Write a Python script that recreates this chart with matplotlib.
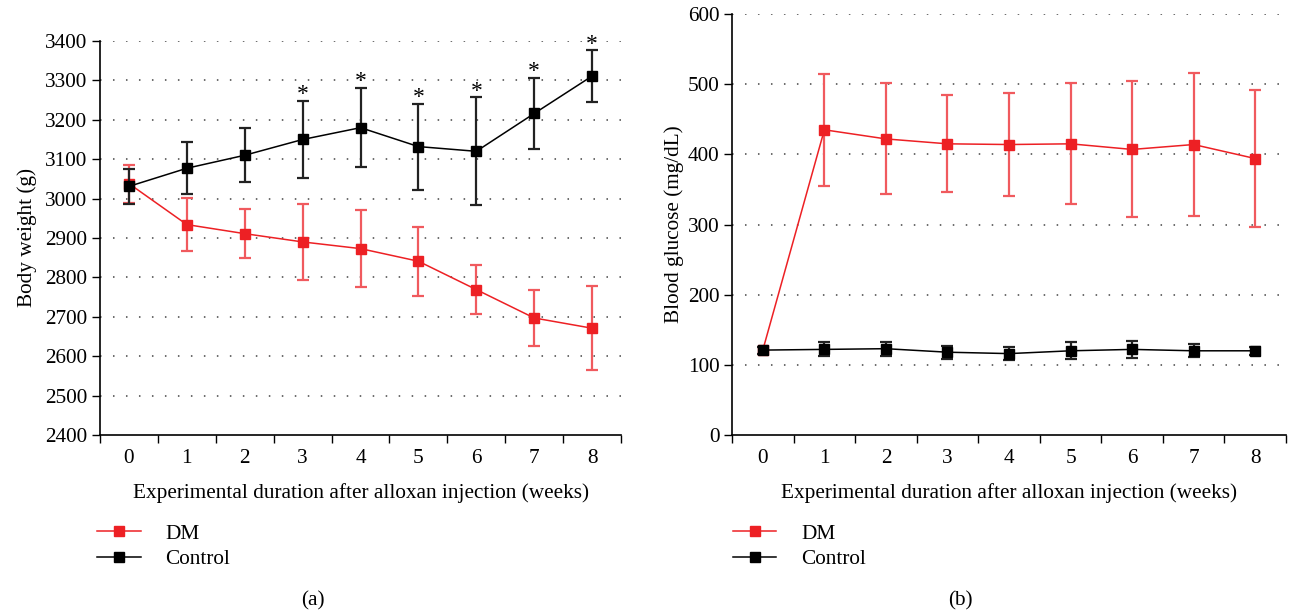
import matplotlib.pyplot as plt
from matplotlib.lines import Line2D
import numpy as np

plt.rcParams['font.family'] = ['Liberation Serif', 'DejaVu Serif']

weeks = [0, 1, 2, 3, 4, 5, 6, 7, 8]

# (a) body weight (g)
bw_dm = [3038, 2934, 2911, 2890, 2873, 2841, 2769, 2697, 2671]
bw_dm_err = [48, 68, 63, 96, 97, 87, 63, 70, 107]
bw_ctrl = [3031, 3077, 3110, 3150, 3180, 3132, 3120, 3216, 3311]
bw_ctrl_err = [44, 66, 68, 97, 101, 109, 137, 91, 65]
bw_star = [3, 4, 5, 6, 7, 8]

# (b) blood glucose (mg/dL)
bg_dm = [121, 435, 422, 415, 414, 415, 407, 414, 394]
bg_dm_err = [5, 80, 79, 69, 73, 86, 97, 102, 98]
bg_ctrl = [121, 122, 123, 118, 116, 120, 122, 120, 120]
bg_ctrl_err = [5, 10, 10, 9, 9, 12, 12, 9, 6]

red = '#ed2024'
red_err = '#f05a5e'
black = '#000000'
fs = 15.3

fig = plt.figure(figsize=(12.89, 6.10), dpi=100)
ax1 = fig.add_axes([0.0776, 0.2869, 0.4042, 0.6459])
ax2 = fig.add_axes([0.5679, 0.2869, 0.4298, 0.6901])


def style(ax, yticks):
    ax.set_xlim(-0.5, 8.5)
    ax.set_ylim(yticks[0], yticks[-1])
    ax.set_yticks(yticks)
    ax.set_xticks(np.arange(-0.5, 9.0, 1.0))
    ax.set_xticklabels([])
    ax.set_xticks(weeks, minor=True)
    ax.set_xticklabels([str(w) for w in weeks], minor=True, fontsize=fs)
    ax.tick_params(axis='x', which='major', direction='out', length=6, width=1)
    ax.tick_params(axis='x', which='minor', length=0, pad=10)
    ax.tick_params(axis='y', direction='out', length=6, width=1, labelsize=fs, pad=3)
    for s in ['top', 'right']:
        ax.spines[s].set_visible(False)
    for s in ['left', 'bottom']:
        ax.spines[s].set_linewidth(1.2)
    for y in yticks[1:]:
        ax.axhline(y, color='#444444', lw=1.1, ls=(0, (1, 7.5)), zorder=0)
    ax.set_xlabel('Experimental duration after alloxan injection (weeks)', fontsize=fs, labelpad=11)


def series(ax, y, e, c, ec, z):
    ax.errorbar(weeks, y, yerr=e, color=c, ecolor=ec, lw=1.1, elinewidth=1.6,
                capsize=4.5, capthick=1.6, marker='s', ms=7, mec=c, mfc=c,
                zorder=z, clip_on=False)


series(ax1, bw_dm, bw_dm_err, red, red_err, 3)
series(ax1, bw_ctrl, bw_ctrl_err, black, '#222222', 4)
style(ax1, [2400, 2500, 2600, 2700, 2800, 2900, 3000, 3100, 3200, 3300, 3400])
ax1.set_ylabel('Body weight (g)', fontsize=fs, labelpad=6)
for w in bw_star:
    ax1.annotate('*', (w, bw_ctrl[w] + bw_ctrl_err[w]), xytext=(0, -3),
                 textcoords='offset points', ha='center', va='bottom',
                 fontsize=17, annotation_clip=False)

series(ax2, bg_dm, bg_dm_err, red, red_err, 3)
series(ax2, bg_ctrl, bg_ctrl_err, black, '#222222', 4)
style(ax2, [0, 100, 200, 300, 400, 500, 600])
ax2.set_ylabel('Blood glucose (mg/dL)', fontsize=fs, labelpad=3)

handles = [Line2D([], [], color=red, lw=1.1, marker='s', ms=7),
           Line2D([], [], color=black, lw=1.1, marker='s', ms=7)]
labels = ['DM', 'Control']
for x0, tag, xt in [(0.069, '(a)', 0.243), (0.562, '(b)', 0.745)]:
    fig.legend(handles, labels, loc='upper left', bbox_to_anchor=(x0, 0.155),
               frameon=False, fontsize=fs, handlelength=2.05, handletextpad=1.15,
               labelspacing=0.25, borderaxespad=0)
    fig.text(xt, 0.0, tag, ha='center', va='bottom', fontsize=fs)

fig.savefig('out.png', dpi=100)
